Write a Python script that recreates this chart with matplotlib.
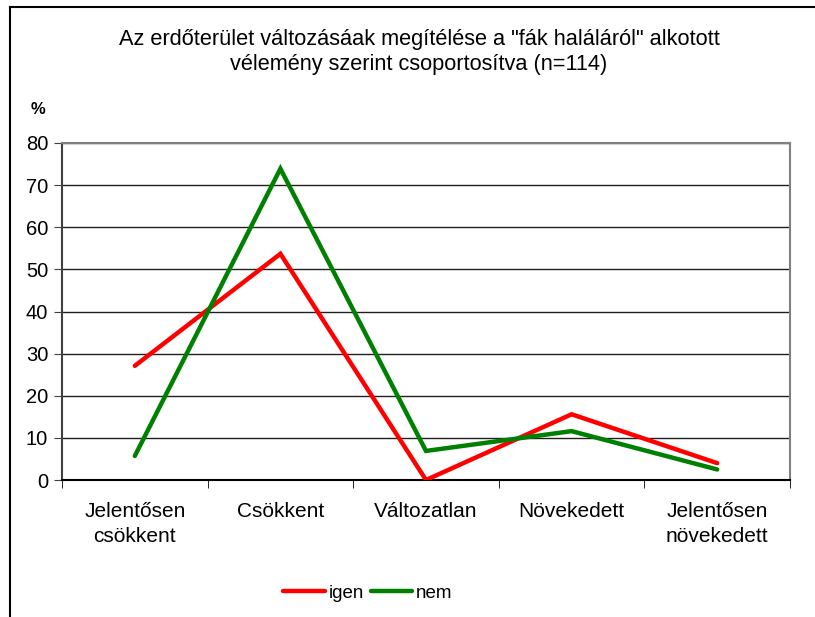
import matplotlib
matplotlib.use("Agg")
import matplotlib.pyplot as plt
from matplotlib.lines import Line2D

categories = ["Jelentősen\ncsökkent", "Csökkent", "Változatlan", "Növekedett", "Jelentősen\nnövekedett"]
igen = [27.1, 53.7, 0.0, 15.6, 4.0]
nem = [5.7, 73.9, 6.9, 11.6, 2.5]
yticks = [0, 10, 20, 30, 40, 50, 60, 70, 80]
title = 'Az erdőterület változásáak megítélése a "fák haláláról" alkotott\nvélemény szerint csoportosítva (n=114)'

plt.rcParams['font.family'] = ['Liberation Sans', 'DejaVu Sans']

fig = plt.figure(figsize=(8.15, 6.17), dpi=100)
ax = fig.add_axes([62/815, 1-480/617, (790-62)/815, (480-143)/617])

x = list(range(len(categories)))
ax.plot(x, igen, color="#ff0000", lw=3.2, solid_capstyle="round", solid_joinstyle="miter", label="igen", zorder=3)
ax.plot(x, nem, color="#008000", lw=3.2, solid_capstyle="round", solid_joinstyle="miter", label="nem", zorder=3)

ax.set_xlim(-0.5, len(categories) - 0.5)
ax.set_ylim(0, 80)
ax.set_yticks(yticks)
ax.set_yticklabels([str(v) for v in yticks], fontsize=14.5)
ax.set_xticks(x)
ax.set_xticklabels(categories, fontsize=15, linespacing=1.4)
ax.set_xticks([i - 0.5 for i in range(len(categories) + 1)], minor=True)
ax.tick_params(axis="x", which="major", length=0, pad=16)
ax.tick_params(axis="x", which="minor", length=6, direction="out", color="black")
ax.tick_params(axis="y", length=6, direction="out", color="#404040", pad=4)
for v in yticks[1:]:
    ax.axhline(v, color="#202020", lw=1.0, zorder=1)

ax.spines["top"].set_color("#808080")
ax.spines["right"].set_color("#808080")
ax.spines["top"].set_linewidth(1.5)
ax.spines["right"].set_linewidth(1.5)
ax.spines["left"].set_color("#404040")
ax.spines["left"].set_linewidth(1.5)
ax.spines["bottom"].set_color("black")
ax.spines["bottom"].set_linewidth(1.5)

fig.text(419/815, 1-52/617, title, ha="center", va="center", fontsize=15.7, linespacing=1.25)
fig.text(38/815, 1-110/617, "%", ha="center", va="center", fontsize=12, fontweight="bold")

handles = [Line2D([0], [0], color="#ff0000", lw=3.2, solid_capstyle="round"),
           Line2D([0], [0], color="#008000", lw=3.2, solid_capstyle="round")]
fig.legend(handles, ["igen", "nem"], loc="center", bbox_to_anchor=(368/815, 1-593/617),
           ncol=2, frameon=False, fontsize=13.5, handlelength=2.2, handletextpad=0.2,
           columnspacing=0.4)

# figure border (top and left)
fig.add_artist(Line2D([10/815, 1], [1-7/617, 1-7/617], transform=fig.transFigure, color="black", lw=1.5))
fig.add_artist(Line2D([10/815, 10/815], [0, 1-7/617], transform=fig.transFigure, color="black", lw=1.5))

fig.savefig("out.png", dpi=100)
